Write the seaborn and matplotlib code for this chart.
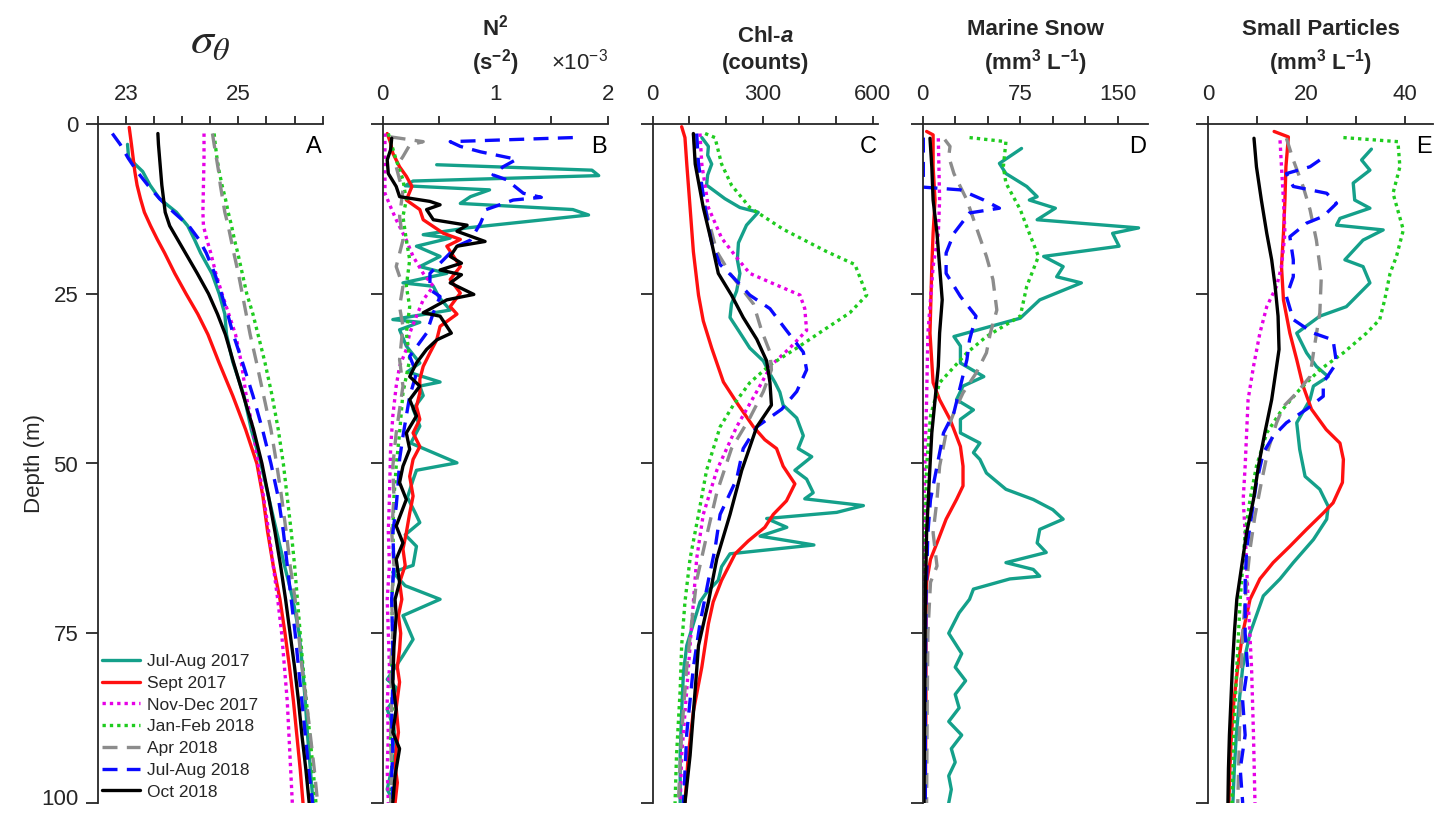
import pandas as pd
import seaborn as sns
import matplotlib.pyplot as plt
import matplotlib.transforms as mtransforms

seasons = ['Jul-Aug 2017', 'Sept 2017', 'Nov-Dec 2017', 'Jan-Feb 2018',
           'Apr 2018', 'Jul-Aug 2018', 'Oct 2018']
colors = ['#14a08a', '#ff1010', '#e600e6', '#1fcc1f', '#8c8c8c', '#0a0aff', '#000000']
dash_styles = ['', '', (1, 1.2), (1, 1.2), (4.5, 2.8), (4.5, 2.8), '']

depth_ticks = [0, 25, 50, 75, 100]

# ---- A: sigma-theta  [depth, value]
sig_jul17 = [[3, 23.03], [5, 23.05], [7, 23.3], [9, 23.43], [11, 23.6], [13, 23.9], [15, 24.1], [17, 24.22],
             [19, 24.33], [22, 24.53], [25, 24.66], [28, 24.76], [31, 24.79], [35, 24.9], [40, 25.1], [45, 25.23],
             [50, 25.4], [55, 25.54], [60, 25.68], [65, 25.82], [70, 25.97], [75, 26.08], [80, 26.14], [85, 26.19],
             [90, 26.23], [95, 26.28], [100, 26.33]]
sig_sep17 = [[0.5, 23.06], [3, 23.1], [5, 23.13], [7, 23.16], [9, 23.2], [11, 23.26], [13, 23.33], [15, 23.44],
             [17, 23.56], [19, 23.69], [22, 23.87], [25, 24.07], [28, 24.28], [31, 24.46], [35, 24.65], [40, 24.9],
             [45, 25.13], [50, 25.33], [55, 25.44], [60, 25.52], [65, 25.62], [70, 25.74], [75, 25.83], [80, 25.91],
             [85, 25.98], [90, 26.04], [95, 26.1], [100, 26.15]]
sig_nov17 = [[1.4, 24.39], [5, 24.39], [9, 24.38], [13, 24.37], [15, 24.38], [17, 24.44], [19, 24.51], [22, 24.6],
             [25, 24.71], [28, 24.83], [31, 24.95], [35, 25.05], [40, 25.14], [45, 25.26], [50, 25.35], [55, 25.45],
             [60, 25.54], [65, 25.62], [70, 25.7], [75, 25.77], [80, 25.82], [85, 25.87], [90, 25.9], [95, 25.93],
             [100, 25.96]]
sig_jan18 = [[1.4, 24.57], [3, 24.59], [5, 24.62], [7, 24.66], [9, 24.71], [11, 24.77], [13, 24.82], [15, 24.88],
             [17, 24.93], [19, 24.99], [22, 25.07], [25, 25.15], [28, 25.26], [31, 25.35], [35, 25.47], [40, 25.6],
             [45, 25.71], [50, 25.8], [55, 25.87], [60, 25.94], [65, 26.0], [70, 26.05], [75, 26.1], [80, 26.15],
             [85, 26.21], [90, 26.27], [95, 26.33], [100, 26.38]]
sig_apr18 = [[1.4, 24.54], [3, 24.57], [5, 24.61], [7, 24.65], [9, 24.68], [11, 24.72], [13, 24.76], [15, 24.82],
             [17, 24.87], [19, 24.92], [22, 25.0], [25, 25.07], [28, 25.14], [31, 25.21], [35, 25.32], [40, 25.45],
             [45, 25.58], [50, 25.68], [55, 25.77], [60, 25.85], [65, 25.92], [70, 26.01], [75, 26.07], [80, 26.13],
             [85, 26.21], [90, 26.28], [95, 26.35], [100, 26.41]]
sig_jul18 = [[1.4, 22.76], [3, 22.9], [5, 23.04], [7, 23.2], [9, 23.39], [11, 23.6], [13, 23.85], [15, 24.12],
             [17, 24.3], [19, 24.43], [22, 24.58], [25, 24.7], [28, 24.81], [31, 24.91], [35, 25.07], [40, 25.26],
             [45, 25.43], [50, 25.58], [55, 25.71], [60, 25.8], [65, 25.87], [70, 25.94], [75, 26.01], [80, 26.07],
             [85, 26.13], [90, 26.19], [95, 26.25], [100, 26.32]]
sig_oct18 = [[1.4, 23.57], [3, 23.58], [5, 23.6], [7, 23.62], [9, 23.64], [11, 23.67], [13, 23.7], [15, 23.78],
             [17, 23.92], [19, 24.06], [22, 24.27], [25, 24.47], [28, 24.63], [31, 24.77], [35, 24.91], [40, 25.09],
             [45, 25.27], [50, 25.42], [55, 25.54], [60, 25.65], [65, 25.75], [70, 25.84], [75, 25.92], [80, 26.0],
             [85, 26.07], [90, 26.13], [95, 26.2], [100, 26.26]]

# ---- B: N^2 (x 1e-3 s^-2)
n2_jul17 = [[6, 0.48], [6.8, 1.86], [7.6, 1.92], [8.4, 0.27], [9.1, 0.2], [9.7, 0.95], [10.7, 0.78], [11.7, 0.69],
            [12.6, 1.69], [13.4, 1.83], [15.3, 0.75], [16.3, 0.36], [16.8, 0.6], [18, 0.3], [19.5, 0.51], [21, 0.33],
            [22, 0.57], [23.4, 0.18], [23.9, 0.45], [25.5, 0.5], [27.4, 0.6], [28.8, 0.09], [29.2, 0.33], [30.3, 0.15],
            [32.7, 0.21], [35.2, 0.33], [36.5, 0.22], [38, 0.51], [38.6, 0.33], [40, 0.36], [42, 0.27], [44.5, 0.33],
            [47, 0.25], [49.9, 0.66], [51, 0.3], [52.4, 0.27], [55, 0.22], [57.3, 0.29], [58.7, 0.33], [60.5, 0.2],
            [62.2, 0.3], [65, 0.27], [66, 0.09], [68, 0.2], [70, 0.51], [72.4, 0.18], [75.9, 0.27], [78.3, 0.18],
            [81.8, 0.04], [83, 0.12], [85, 0.09], [86.2, 0.04], [89, 0.1], [92, 0.12], [95, 0.08], [98, 0.04],
            [99.6, 0.09]]
n2_sep17 = [[1.4, 0.04], [2.8, 0.07], [4.3, 0.09], [6.3, 0.15], [7.7, 0.21], [9.2, 0.26], [11.2, 0.21], [12.6, 0.33],
            [14.1, 0.36], [16.1, 0.54], [17, 0.69], [18, 0.57], [19.5, 0.63], [21, 0.69], [22.9, 0.6], [24.9, 0.69],
            [26.9, 0.6], [28, 0.66], [29.8, 0.51], [31.8, 0.48], [33.7, 0.42], [35.7, 0.36], [37.6, 0.33],
            [39.6, 0.33], [41.6, 0.3], [43.5, 0.33], [45.5, 0.27], [47.5, 0.33], [49.4, 0.27], [51.9, 0.24],
            [54.8, 0.27], [57.3, 0.24], [60.2, 0.21], [62.6, 0.18], [65, 0.2], [67.5, 0.15], [70, 0.17], [72.4, 0.14],
            [75, 0.16], [77.4, 0.15], [80, 0.13], [82.2, 0.15], [86, 0.12], [89.6, 0.14], [92, 0.12], [94.5, 0.11],
            [97, 0.13], [100, 0.11]]
n2_nov17 = [[1.4, 0.02], [6.3, 0.02], [10.2, 0.02], [12.2, 0.07], [14.1, 0.12], [17.1, 0.21], [19.5, 0.27],
            [22, 0.36], [23.9, 0.45], [25.9, 0.36], [28.3, 0.3], [30.8, 0.24], [33.2, 0.21], [35.7, 0.15],
            [38.6, 0.12], [43, 0.09], [47.9, 0.07], [55, 0.06], [60, 0.05], [65, 0.06], [70, 0.04], [75, 0.05],
            [80, 0.06], [85, 0.04], [90, 0.05], [95, 0.04], [100, 0.05]]
n2_jan18 = [[1.4, 0.05], [5.3, 0.12], [8.2, 0.18], [11.2, 0.21], [13.6, 0.18], [17.1, 0.21], [20, 0.24], [23.9, 0.21],
            [26.9, 0.24], [30.8, 0.21], [34.7, 0.24], [39.6, 0.18], [45.5, 0.15], [50.4, 0.12], [55, 0.1], [60, 0.09],
            [65, 0.1], [70, 0.08], [75, 0.09], [80, 0.08], [85, 0.09], [90, 0.07], [95, 0.08], [100, 0.07]]
n2_apr18 = [[1.9, 0.07], [2.6, 0.36], [3.1, 0.24], [4.8, 0.18], [6.3, 0.12], [8.2, 0.15], [9.7, 0.18], [13.6, 0.15],
            [17.1, 0.18], [21, 0.12], [23.9, 0.18], [26.9, 0.15], [29.8, 0.18], [34.7, 0.15], [38.6, 0.18],
            [45.5, 0.12], [50.4, 0.09], [55, 0.1], [60, 0.08], [65, 0.1], [70, 0.08], [75, 0.09], [80, 0.07],
            [85, 0.08], [90, 0.07], [95, 0.08], [100, 0.07]]
n2_jul18 = [[2, 1.69], [2.6, 0.6], [3.3, 0.69], [4.1, 0.87], [5.2, 1.19], [6.3, 1.07], [7.5, 0.98], [8.2, 1.1],
            [10.2, 1.25], [10.8, 1.41], [11.2, 1.16], [12.6, 0.92], [14.6, 0.87], [17.1, 0.78], [18, 0.66], [20, 0.54],
            [22, 0.42], [24.4, 0.42], [25.4, 0.51], [27.8, 0.45], [30.8, 0.39], [34.2, 0.24], [36.7, 0.3],
            [40.1, 0.24], [43, 0.21], [46, 0.18], [49.4, 0.15], [52.4, 0.14], [56.3, 0.12], [60.2, 0.09], [65, 0.1],
            [70, 0.08], [77.4, 0.09], [82.2, 0.09], [88, 0.08], [92, 0.09], [96, 0.08], [99.4, 0.09]]
n2_oct18 = [[2.1, 0.08], [3.8, 0.07], [5.3, 0.04], [7.3, 0.05], [9.2, 0.12], [10.7, 0.15], [11.4, 0.42], [11.9, 0.51],
            [12.6, 0.39], [14.1, 0.45], [14.9, 0.75], [15.8, 0.66], [17.3, 0.91], [18, 0.66], [19.5, 0.6],
            [20.5, 0.7], [21.5, 0.51], [22.2, 0.7], [23.4, 0.6], [25.1, 0.81], [25.9, 0.57], [27.8, 0.36],
            [28.3, 0.51], [30.8, 0.61], [31.8, 0.48], [33.2, 0.39], [35.2, 0.3], [37.2, 0.24], [38.6, 0.33],
            [40.6, 0.24], [43, 0.3], [45.5, 0.21], [47.9, 0.24], [50.4, 0.18], [52.8, 0.15], [55.3, 0.21],
            [59.2, 0.12], [61.7, 0.18], [64.1, 0.12], [67.5, 0.15], [70, 0.11], [72.4, 0.12], [77, 0.1], [82.2, 0.09],
            [86.2, 0.12], [89.6, 0.09], [92, 0.15], [96, 0.11], [99.9, 0.09]]

# ---- C: Chl-a (counts)
chl_jul17 = [[2, 134], [3.3, 152], [4.6, 150], [5.9, 161], [7.5, 150], [9, 147], [11, 197], [12.3, 238], [13, 288],
             [14.9, 256], [17.5, 234], [20, 231], [22, 238], [24.6, 229], [26.5, 215], [28.5, 211], [30.4, 234],
             [33, 265], [34.9, 302], [36.8, 320], [38.1, 334], [39.5, 347], [41.4, 356], [43.3, 393], [45.9, 411],
             [47.8, 397], [49, 434], [51, 388], [52.3, 420], [54.3, 438], [55.2, 415], [56.2, 575], [57.2, 502],
             [58.1, 311], [59.4, 366], [60.7, 293], [62, 440], [63.3, 211], [65.2, 188], [67.2, 179], [69, 147],
             [70.4, 129], [73.6, 111], [76.8, 93], [80.7, 84], [86.5, 79], [93, 75], [100, 75]]
chl_sep17 = [[0.4, 79], [2, 88], [5.9, 93], [12.3, 102], [18.8, 111], [25.2, 125], [29, 138], [33, 161], [38, 193],
             [41.4, 234], [44.6, 275], [46.5, 306], [47.8, 338], [50.4, 356], [53, 388], [55.5, 365], [57.5, 329],
             [59.4, 306], [61.4, 261], [63.3, 225], [67.2, 188], [70.4, 165], [73.6, 152], [80, 134], [86.5, 111],
             [93, 97], [100, 88]]
chl_nov17 = [[1.4, 129], [5.9, 134], [12.3, 152], [16.8, 188], [20, 234], [22, 265], [23.3, 320], [25.2, 402],
             [27.2, 415], [30.4, 420], [33, 374], [35.5, 324], [39.4, 284], [44.6, 229], [51, 175], [57.5, 138],
             [64, 120], [70.4, 111], [76.8, 102], [83.3, 93], [93, 79], [100, 75]]
chl_jan18 = [[1.4, 143], [2, 170], [5.9, 188], [9, 215], [12.3, 265], [15.5, 356], [18.8, 475], [20.7, 552],
             [23.9, 575], [25.2, 584], [27.8, 538], [30.4, 465], [33, 393], [35.5, 320], [38.1, 265], [41.4, 220],
             [44.6, 184], [51, 147], [57.5, 125], [64, 102], [70.4, 88], [76.8, 79], [83.3, 75], [93, 65], [100, 61]]
chl_apr18 = [[1.4, 111], [5.9, 120], [12.3, 143], [18.8, 175], [22, 211], [23.9, 238], [26.5, 275], [30.4, 297],
             [33.6, 320], [36.2, 324], [39.4, 302], [43.3, 265], [47.8, 215], [54.3, 175], [60.7, 147], [67.2, 120],
             [73.6, 106], [80, 93], [89.7, 79], [100, 70]]
chl_jul18 = [[1.4, 120], [5.9, 125], [9, 134], [12.3, 143], [17.5, 161], [20.7, 184], [22.6, 220], [25.2, 265],
             [27.2, 320], [30.4, 365], [33.6, 411], [36.2, 420], [39.4, 393], [42, 352], [44.6, 284], [47.8, 247],
             [52.3, 229], [57.5, 184], [62.6, 170], [67.2, 152], [73.6, 129], [80, 111], [89.7, 93], [100, 84]]
chl_oct18 = [[1.4, 111], [5.9, 116], [12.3, 138], [17.5, 161], [22, 179], [25.2, 215], [28.5, 247], [31.7, 284],
             [34.9, 311], [38.1, 320], [41.4, 324], [44.6, 284], [51, 243], [57.5, 211], [64, 175], [70.4, 152],
             [76.8, 125], [83.3, 116], [93, 102], [100, 88]]

# ---- D: marine snow (mm3 L-1)
snow_jul17 = [[3.6, 76], [5.8, 59], [7.3, 64], [9.2, 80], [10.7, 88], [11.2, 82], [12.4, 102], [14.1, 88],
              [15.3, 166], [16.1, 146], [18, 151], [19.5, 93], [21, 108], [22.5, 103], [23.4, 122], [25.9, 90],
              [28.6, 75], [31.3, 24], [32.7, 29], [35.2, 29], [37.2, 47], [38.6, 31], [40.6, 26], [42.1, 39],
              [43.5, 29], [45.5, 29], [47, 44], [48.4, 39], [49.4, 44], [51.4, 49], [53.8, 64], [55.3, 85],
              [56.8, 100], [58.2, 108], [59.7, 90], [61.7, 88], [63.1, 95], [64.6, 64], [65.6, 85], [66.6, 90],
              [67, 67], [68.5, 39], [70, 36], [72, 28], [75, 20], [78, 30], [80, 25], [82, 33], [84, 25], [86, 28],
              [88, 20], [90, 30], [92, 22], [94, 25], [96, 20], [98, 22], [100, 20]]
snow_sep17 = [[1.1, 3], [1.6, 8], [6.3, 8], [11.2, 9.5], [16.1, 8], [21, 7], [30.8, 5.6], [38.1, 8], [40.6, 13],
              [43.5, 21], [47.5, 29], [50.4, 31], [53.3, 31], [55.3, 26], [58.2, 18], [61.7, 11], [64.1, 6],
              [67.5, 3], [75, 2.5], [85, 2.5], [100, 2]]
snow_nov17 = [[2.1, 12], [11.2, 13], [16.1, 12], [21, 8], [30.8, 4], [40.6, 3], [55.3, 1], [70, 0.8], [85, 0.8],
              [100, 0.8]]
snow_jan18 = [[2, 36], [2.6, 64], [6.3, 62], [8.7, 64], [12.6, 75], [16.1, 82], [19.5, 89], [23.9, 80], [28.3, 75],
              [31.3, 49], [33.7, 34], [38.1, 13], [43, 6], [50.4, 3], [60, 2], [75, 1.5], [100, 1.5]]
snow_apr18 = [[2.3, 17], [3.3, 21], [4.8, 20], [7.3, 24], [11.2, 34], [15.1, 41], [19.5, 49], [22.9, 54], [27.4, 57],
              [30.8, 52], [33.7, 49], [36.7, 41], [39.6, 31], [42.5, 24], [45.5, 18], [50.4, 13], [55.3, 11],
              [60.2, 8], [65.1, 11], [67.5, 6], [75, 4], [85, 3.5], [100, 3]]
snow_jul18 = [[2, 0.5], [9.3, 0.5], [9.7, 29], [11.2, 47], [12.4, 59], [13.1, 36], [16.1, 24], [19, 18], [22, 18],
              [25.4, 29], [28.3, 41], [31.8, 36], [34.7, 34], [38.6, 29], [42.5, 24], [45.5, 16], [50.4, 11],
              [55.3, 6], [60.2, 4], [70, 2.5], [85, 2], [100, 2]]
snow_oct18 = [[2.1, 5.6], [6.3, 7], [11.2, 8], [16.1, 11], [21, 13], [25.9, 15], [30.8, 13], [35.7, 12], [40.6, 9.5],
              [45.5, 7], [50.4, 5.6], [60.2, 3], [70, 2], [85, 1.5], [100, 1]]

# ---- E: small particles (mm3 L-1)
small_jul17 = [[3.7, 33.2], [5.3, 31.2], [6.8, 32.9], [8.7, 29.5], [11.2, 29.8], [12.4, 32.9], [13.9, 26.8],
               [14.9, 26.1], [15.6, 35.6], [17.1, 31.5], [20, 27.8], [21, 31.5], [23.4, 32.9], [26.9, 28.1],
               [28.3, 22.7], [30.8, 18], [33.7, 20], [35.7, 22], [37.2, 24.4], [38.6, 21.4], [40.6, 20.7], [44, 18],
               [47.9, 18.6], [51.9, 19.7], [53.8, 22.7], [56.3, 24.4], [58.2, 24.1], [61.2, 21.4], [64.6, 17.3],
               [67, 14.6], [69.5, 11.2], [75, 8.5], [80, 7], [85, 6.3], [90, 5.7], [95, 5.3], [100, 5]]
small_sep17 = [[1.1, 13.4], [1.9, 16.3], [6.3, 15.8], [11.2, 15.6], [16.1, 15.3], [21, 14.9], [25.9, 15.3],
               [30.8, 16.6], [34.7, 18], [38.6, 19.3], [42, 21], [45, 24], [47, 26.8], [49.4, 27.5], [52.8, 27.3],
               [55.8, 25.4], [57.3, 23.4], [59.7, 20], [62.2, 16.6], [64.6, 13.2], [67, 10.5], [70, 8.5], [75, 7],
               [80, 6], [85, 5.2], [90, 4.7], [95, 4.4], [100, 4.2]]
small_nov17 = [[2.4, 14.6], [6.3, 14.9], [11.2, 15.3], [16.1, 15.6], [21, 14.9], [23.9, 13.9], [26.9, 11.9],
               [30.8, 10.5], [35.7, 9.2], [40.6, 8.1], [45.5, 7.8], [50.4, 7.5], [55.3, 7.1], [60.2, 7.5],
               [65.1, 7.8], [70, 8.1], [80, 8.8], [90, 9.2], [100, 9.5]]
small_jan18 = [[2, 27.5], [2.6, 38.6], [6.3, 39], [10.2, 37.6], [15.6, 39.7], [19.5, 38.3], [22, 37], [25.9, 35.9],
               [28.8, 34.9], [30.8, 32.2], [33.7, 27.5], [36.2, 22.7], [39.1, 18.6], [42.5, 14.6], [45.5, 11.9],
               [50.4, 9.8], [55.3, 8.5], [60.2, 7.5], [70, 6.5], [80, 5.8], [90, 5.2], [100, 4.8]]
small_apr18 = [[2.1, 15.9], [5.3, 17.3], [9.2, 19.3], [12.6, 20.7], [17.1, 22], [22.5, 23], [27.8, 22.7],
               [33.7, 21.4], [37.2, 20.7], [39.6, 18], [41.6, 15.3], [44, 13.9], [47.9, 12.2], [52.8, 10.8],
               [57.7, 9.5], [62.6, 8.5], [67.5, 7.8], [75, 7], [85, 6.5], [100, 6]]
small_jul18 = [[5.3, 22.7], [6.3, 20.7], [7.3, 15.9], [9.2, 17.3], [10.2, 24.1], [11.7, 26.1], [13.6, 23.4],
               [14.6, 20], [16.6, 16.6], [20, 17.3], [22.5, 17.3], [25.4, 15.9], [28.8, 17.3], [30.8, 21.4],
               [31.8, 25.4], [35.2, 26.1], [38.1, 23.4], [40.1, 23.4], [42, 20], [44, 15.9], [46, 13.2], [48.4, 11.2],
               [52.8, 9.8], [57.7, 8.8], [62.6, 7.8], [67.5, 7.5], [75, 7.5], [80, 8], [85, 7], [90, 7.5], [95, 6.5],
               [100, 7]]
small_oct18 = [[2.1, 9.3], [6.3, 9.8], [11.2, 10.8], [16.1, 11.9], [20, 12.9], [23.9, 13.6], [28.3, 14.2],
               [33.2, 14.4], [35.7, 13.9], [40.6, 12.9], [45.5, 11.5], [50.4, 10.2], [55.3, 9.2], [60.2, 7.8],
               [65.1, 6.8], [70, 5.8], [75, 5.3], [80, 4.9], [85, 4.6], [90, 4.3], [95, 4.1], [100, 4]]

# x-axis ticks / labels
sig_ticks = [22.5, 23, 23.5, 24, 24.5, 25, 25.5, 26, 26.5]
sig_labels = ['', '23', '', '', '', '25', '', '', '']
n2_ticks = [0, 0.5, 1, 1.5, 2]
n2_labels = ['0', '', '1', '', '2']
chl_ticks = [0, 100, 200, 300, 400, 500, 600]
chl_labels = ['0', '', '', '300', '', '', '600']
snow_ticks = [0, 25, 50, 75, 100, 125, 150]
snow_labels = ['0', '', '', '75', '', '', '150']
small_ticks = [0, 10, 20, 30, 40]
small_labels = ['0', '', '20', '', '40']

sns.set_style('ticks')
plt.rcParams['font.family'] = ['Liberation Sans', 'DejaVu Sans']
plt.rcParams['mathtext.fontset'] = 'custom'
plt.rcParams['mathtext.default'] = 'regular'
plt.rcParams['mathtext.it'] = 'Liberation Sans:italic:bold'
plt.rcParams['mathtext.rm'] = 'Liberation Sans:bold'
plt.rcParams['mathtext.bf'] = 'Liberation Sans:bold'

axis_color = '#262626'

panels = [
    dict(profiles=[sig_jul17, sig_sep17, sig_nov17, sig_jan18, sig_apr18, sig_jul18, sig_oct18],
         xlim=(22.5, 26.5), ticks=sig_ticks, labels=sig_labels, letter='A', left=97.7),
    dict(profiles=[n2_jul17, n2_sep17, n2_nov17, n2_jan18, n2_apr18, n2_jul18, n2_oct18],
         xlim=(0, 2), ticks=n2_ticks, labels=n2_labels, letter='B', left=382.7,
         t1='N$^2$', t2='(s$^{-2}$)'),
    dict(profiles=[chl_jul17, chl_sep17, chl_nov17, chl_jan18, chl_apr18, chl_jul18, chl_oct18],
         xlim=(0, 614), ticks=chl_ticks, labels=chl_labels, letter='C', left=652.7,
         t1=r'Chl-$\mathit{a}$', t2='(counts)'),
    dict(profiles=[snow_jul17, snow_sep17, snow_nov17, snow_jan18, snow_apr18, snow_jul18, snow_oct18],
         xlim=(0, 173), ticks=snow_ticks, labels=snow_labels, letter='D', left=922.7,
         t1='Marine Snow', t2='(mm$^3$ L$^{-1}$)'),
    dict(profiles=[small_jul17, small_sep17, small_nov17, small_jan18, small_apr18, small_jul18, small_oct18],
         xlim=(0, 45.8), ticks=small_ticks, labels=small_labels, letter='E', left=1208.3,
         t1='Small Particles', t2='(mm$^3$ L$^{-1}$)'),
]

W, H = 1442, 813
fig = plt.figure(figsize=(W / 100, H / 100), dpi=100)

palette = dict(zip(seasons, colors))
dashes = dict(zip(seasons, dash_styles))

for i, p in enumerate(panels):
    ax = fig.add_axes([p['left'] / W, (H - 803) / H, 225 / W, 679 / H])

    rows = []
    for season, prof in zip(seasons, p['profiles']):
        for d, v in prof:
            rows.append({'depth': d, 'value': v, 'season': season})
    df = pd.DataFrame(rows)

    sns.lineplot(data=df, x='value', y='depth', hue='season', style='season',
                 hue_order=seasons, style_order=seasons, palette=palette, dashes=dashes,
                 orient='y', estimator=None, lw=2.4, ax=ax, legend=(i == 0))

    ax.set_xlim(*p['xlim'])
    ax.set_ylim(100, 0)
    ax.xaxis.tick_top()
    ax.set_xticks(p['ticks'])
    ax.set_xticklabels(p['labels'])
    ax.set_yticks(depth_ticks)
    ax.set_xlabel('')
    ax.set_ylabel('')
    ax.spines['bottom'].set_visible(False)
    ax.spines['right'].set_visible(False)
    for s in ['top', 'left']:
        ax.spines[s].set_color(axis_color)
        ax.spines[s].set_linewidth(1.3)
    ax.tick_params(axis='x', direction='out', length=6, width=1.3, pad=8,
                   labelsize=16, colors=axis_color)
    ax.tick_params(axis='y', direction='out', length=9, width=1.3, pad=5,
                   labelsize=16, colors=axis_color)

    ax.text(0.995, 0.966, p['letter'], transform=ax.transAxes, ha='right', va='center',
            fontsize=17, color='black')

    if i == 0:
        ax.set_ylabel('Depth (m)', fontsize=16, color=axis_color, labelpad=-3)
        # nudge the bottom "100" label up a little so it stays inside the figure
        last = ax.get_yticklabels()[-1]
        last.set_transform(last.get_transform() +
                           mtransforms.ScaledTranslation(0, 4 / 72, fig.dpi_scale_trans))
        ax.text(0.5, 1.104, r'$\mathit{\sigma}_{\mathit{\theta}}$', transform=ax.transAxes,
                ha='center', va='baseline', fontsize=33, math_fontfamily='stix')
        handles, labels = ax.get_legend_handles_labels()
        ax.legend(handles, labels, loc='lower left', bbox_to_anchor=(0.005, 0.0),
                  frameon=False, fontsize=12.5, handlelength=2.2, handletextpad=0.4,
                  labelspacing=0.38, borderpad=0.2, borderaxespad=0)
    else:
        ax.set_yticklabels([])
        y1 = 1.121 if p['letter'] == 'C' else 1.131
        ax.text(0.5, y1, p['t1'], transform=ax.transAxes, ha='center', va='baseline',
                fontsize=16, fontweight='bold', color=axis_color)
        ax.text(0.5, 1.081, p['t2'], transform=ax.transAxes, ha='center', va='baseline',
                fontsize=16, fontweight='bold', color=axis_color)
    if p['letter'] == 'B':
        ax.text(1.0, 1.081, r'$\times$10$^{-3}$', transform=ax.transAxes, ha='right',
                va='baseline', fontsize=16, color=axis_color)

fig.savefig('out.png', dpi=100)
